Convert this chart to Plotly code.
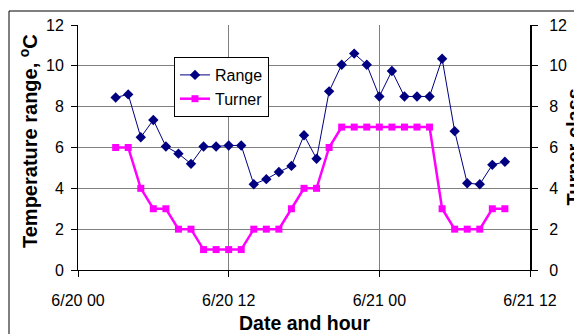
import plotly.graph_objects as go

# Hours since 6/20 00:00
hours = list(range(3, 35))
range_vals = [8.45, 8.6, 6.5, 7.35, 6.05, 5.7, 5.2, 6.05, 6.05, 6.1, 6.1, 4.2, 4.45, 4.8,
              5.1, 6.6, 5.45, 8.75, 10.05, 10.6, 10.05, 8.5, 9.75, 8.5, 8.5, 8.5, 10.35,
              6.8, 4.25, 4.2, 5.15, 5.3]
turner_vals = [6, 6, 4, 3, 3, 2, 2, 1, 1, 1, 1, 2, 2, 2, 3, 4, 4, 6, 7, 7, 7, 7, 7, 7, 7, 7,
               3, 2, 2, 2, 3, 3]
tick_hours = [0, 12, 24, 36]
tick_labels = ["6/20 00", "6/20 12", "6/21 00", "6/21 12"]

FONT = "Arial, Liberation Sans, sans-serif"
W, H = 582, 334
OFF = 8  # page body margin
# target plot area in screen pixels: x 78..530, y 25..270
L = 78 - OFF
T = 25 - OFF
R = W - (530 - OFF)
B = H - (270 - OFF)
pw, ph = W - L - R, H - T - B

def px_x(x):
    return (x - OFF - L) / pw

def px_y(y):
    return (H - B - (y - OFF)) / ph

fig = go.Figure()
fig.add_trace(go.Scatter(
    x=hours, y=range_vals, name="Range", mode="lines+markers",
    line=dict(color="#000080", width=1),
    marker=dict(symbol="diamond", size=8, color="#000080"),
))
fig.add_trace(go.Scatter(
    x=hours, y=turner_vals, name="Turner", mode="lines+markers", yaxis="y2",
    line=dict(color="#FF00FF", width=2.5),
    marker=dict(symbol="square", size=7, color="#FF00FF"),
))

fig.update_layout(
    width=W, height=H,
    margin=dict(l=L, r=R, t=T, b=B, pad=0, autoexpand=False),
    paper_bgcolor="white", plot_bgcolor="white",
    font=dict(family=FONT, size=16, color="black"),
    showlegend=True,
    legend=dict(x=px_x(174), y=px_y(57), xanchor="left", yanchor="top",
                bgcolor="white", bordercolor="black", borderwidth=1,
                font=dict(size=16), tracegroupgap=0),
    xaxis=dict(range=[0, 36], tickvals=tick_hours, ticktext=tick_labels,
               showgrid=True, gridcolor="#808080", gridwidth=1,
               showline=True, linecolor="black", linewidth=1,
               ticks="outside", ticklen=6, tickcolor="black",
               ticklabelstandoff=10, zeroline=False,
               tickfont=dict(size=16)),
    yaxis=dict(range=[0, 12], dtick=2, showgrid=True, gridcolor="#808080", gridwidth=1,
               showline=True, linecolor="black", linewidth=1,
               ticks="outside", ticklen=6, tickcolor="black", zeroline=False,
               ticklabelstandoff=4, tickfont=dict(size=16)),
    yaxis2=dict(range=[0, 12], dtick=2, overlaying="y", side="right", showgrid=False,
                showline=True, linecolor="black", linewidth=2,
                ticks="outside", ticklen=6, tickcolor="black", zeroline=False,
                ticklabelstandoff=8, tickfont=dict(size=16)),
    shapes=[dict(type="rect", xref="paper", yref="paper",
                 x0=px_x(9), x1=px_x(700), y0=px_y(400), y1=px_y(11),
                 line=dict(color="black", width=1), fillcolor="rgba(0,0,0,0)", layer="above")],
    annotations=[
        dict(text="<b>Temperature range, <sup>o</sup>C</b>", textangle=-90,
             xref="paper", yref="paper", x=px_x(28.5), y=px_y(141.5),
             xanchor="center", yanchor="middle", showarrow=False, font=dict(size=20)),
        dict(text="<b>Date and hour</b>",
             xref="paper", yref="paper", x=px_x(305), y=px_y(323),
             xanchor="center", yanchor="middle", showarrow=False, font=dict(size=19.5)),
        dict(text="<b>Turner class</b>", textangle=-90,
             xref="paper", yref="paper", x=px_x(573), y=px_y(147.5),
             xanchor="center", yanchor="middle", showarrow=False, font=dict(size=20)),
    ],
)

fig.write_html("out.html")
